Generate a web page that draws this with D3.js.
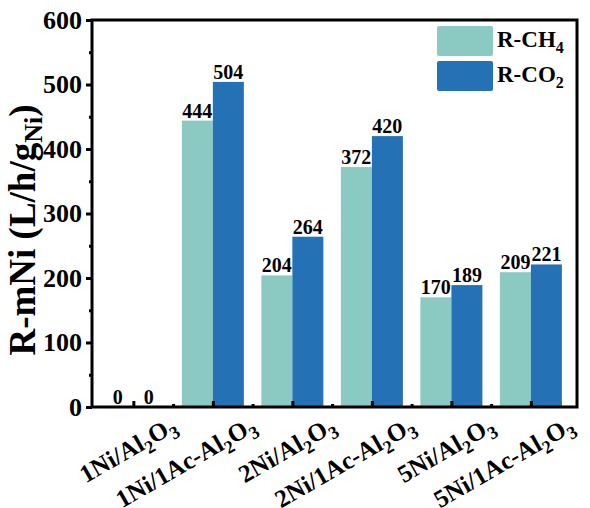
<!DOCTYPE html>
<html><head><meta charset="utf-8">
<script src="https://cdn.jsdelivr.net/npm/d3@7"></script>
<style>body{margin:0;background:#fff}svg{display:block}</style>
</head><body>
<svg id="c" width="590" height="508"></svg>
<script>
const categories = ["1Ni/Al_2O_3","1Ni/1Ac-Al_2O_3","2Ni/Al_2O_3","2Ni/1Ac-Al_2O_3","5Ni/Al_2O_3","5Ni/1Ac-Al_2O_3"];
const seriesNames = ["R-CH_4","R-CO_2"];
const rCH4 = [0,444,204,372,170,209];
const rCO2 = [0,504,264,420,189,221];
const yTicks = [0,100,200,300,400,500,600];
const yMinor = [50,150,250,350,450,550];
const colors = ["#8bcac3","#2571b5"];

const FONT = "'Liberation Serif','Times New Roman',serif";
const svg = d3.select("#c");
const L=92, R=577, T=20, B=407;
const x = d3.scaleLinear().domain([0.48,6.58]).range([L,R]);
const y = d3.scaleLinear().domain([0,600]).range([B,T]);
const bw = x(0.39)-x(0);

function rich(sel, str, subSize){
  const parts = str.split(/_(\d)/);
  const shift = subSize*0.35;
  let pending = 0;
  parts.forEach((p,i)=>{
    if(!p) return;
    const ts = sel.append("tspan").text(p);
    if(i%2===1){
      ts.attr("font-size",subSize).attr("dy",shift - pending);
      pending = shift;
    } else {
      if(pending) ts.attr("dy",-pending);
      pending = 0;
    }
  });
}

const series=[rCH4,rCO2];
series.forEach((vals,s)=>{
  const g=svg.append("g");
  vals.forEach((v,i)=>{
    const cx = x(i+1) + (s===0? -bw/2 : bw/2);
    g.append("rect").attr("x",cx-bw/2).attr("width",bw)
     .attr("y",y(v)).attr("height",B-y(v)).attr("fill",colors[s]);
    g.append("text").attr("x",cx).attr("y",y(v)-3).attr("text-anchor","middle")
     .attr("font-family",FONT).attr("font-weight","bold").attr("font-size",20).text(v);
  });
});

// frame
svg.append("rect").attr("x",L).attr("y",T).attr("width",R-L).attr("height",B-T)
  .attr("fill","none").attr("stroke","#000").attr("stroke-width",3);

// y axis
const yAx = svg.append("g").attr("transform",`translate(${L},0)`)
  .call(d3.axisLeft(y).tickValues(yTicks).tickSize(6).tickPadding(4).tickFormat(d3.format("d")));
yAx.select(".domain").remove();
yAx.selectAll("line").attr("stroke-width",3);
yAx.selectAll("text").attr("font-family",FONT).attr("font-weight","bold").attr("font-size",26).attr("fill","#000");
const yAxm = svg.append("g").attr("transform",`translate(${L},0)`)
  .call(d3.axisLeft(y).tickValues(yMinor).tickSize(3).tickFormat(""));
yAxm.select(".domain").remove();
yAxm.selectAll("line").attr("stroke-width",3);

// x axis ticks (inward)
const xAx = svg.append("g").attr("transform",`translate(0,${B})`)
  .call(d3.axisTop(x).tickValues(d3.range(1,7)).tickSize(6).tickFormat(""));
xAx.select(".domain").remove();
xAx.selectAll("line").attr("stroke-width",3);
const xAxm = svg.append("g").attr("transform",`translate(0,${B})`)
  .call(d3.axisTop(x).tickValues(d3.range(1.5,6,1)).tickSize(3).tickFormat(""));
xAxm.select(".domain").remove();
xAxm.selectAll("line").attr("stroke-width",3);

// x labels
categories.forEach((c,i)=>{
  const t = svg.append("text")
    .attr("transform",`translate(${x(i+1)+45},${B+23}) rotate(-30)`)
    .attr("text-anchor","end").attr("font-family",FONT).attr("font-weight","bold").attr("font-size",25);
  rich(t,c,18);
});

// y label
const yl = svg.append("text").attr("transform",`translate(35,230) rotate(-90)`)
  .attr("text-anchor","middle").attr("font-family",FONT).attr("font-weight","bold").attr("font-size",37);
yl.append("tspan").text("R-mNi (L/h/g");
yl.append("tspan").attr("font-size",26).attr("dy",7).text("Ni");
yl.append("tspan").attr("dy",-7).text(")");

// legend
seriesNames.forEach((n,s)=>{
  const yy = 26 + s*35;
  svg.append("rect").attr("x",437).attr("y",yy).attr("width",56).attr("height",30).attr("rx",2).attr("fill",colors[s]);
  const t = svg.append("text").attr("x",497).attr("y",yy+21).attr("font-family",FONT)
    .attr("font-weight","bold").attr("font-size",23);
  rich(t,n,16);
});
</script>
</body></html>
